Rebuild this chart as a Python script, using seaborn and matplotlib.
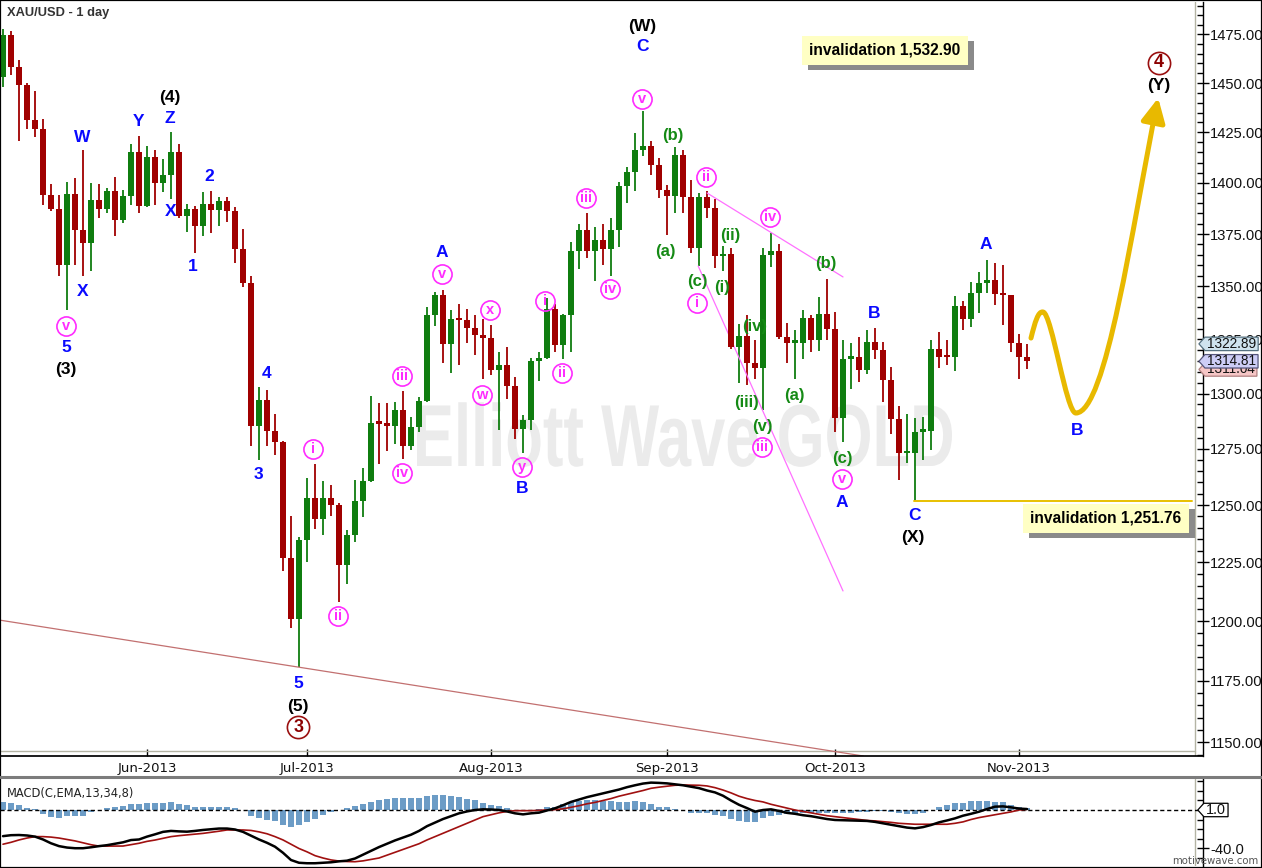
import numpy as np
import pandas as pd
import matplotlib
matplotlib.use("Agg")
import matplotlib.pyplot as plt
import matplotlib.transforms as mtransforms
from matplotlib.path import Path
from matplotlib.patches import FancyArrowPatch, PathPatch, Rectangle
from matplotlib.lines import Line2D
from matplotlib.textpath import TextPath
from matplotlib.font_manager import FontProperties
from matplotlib.ticker import FixedLocator, NullFormatter
import seaborn as sns

sns.set_theme(style="white")
plt.rcParams['font.family'] = ['Liberation Sans', 'DejaVu Sans']

# ---- daily XAU/USD candles ----
first_day = "2013-05-08"
opens = [1453.0, 1474.5, 1458.0, 1449.0, 1431.4, 1426.5, 1394.0, 1387.0, 1360.0, 1394.5,
         1377.0, 1370.6, 1391.5, 1387.0, 1396.0, 1382.0, 1393.6, 1415.0, 1388.7, 1412.7,
         1400.0, 1404.0, 1415.0, 1383.8, 1387.0, 1379.0, 1389.5, 1386.6, 1391.0, 1386.0,
         1368.0, 1351.4, 1285.3, 1296.9, 1283.0, 1278.0, 1226.9, 1201.0, 1234.6, 1253.2,
         1244.0, 1253.2, 1250.0, 1224.0, 1237.0, 1251.8, 1260.4, 1287.0, 1286.6, 1285.3,
         1292.4, 1276.3, 1285.0, 1296.4, 1336.3, 1345.8, 1323.0, 1334.5, 1334.0, 1330.2,
         1327.0, 1325.6, 1310.6, 1313.0, 1303.3, 1284.0, 1288.0, 1315.0, 1316.5, 1339.4,
         1322.2, 1336.3, 1366.8, 1377.0, 1366.7, 1372.0, 1367.6, 1377.0, 1398.5, 1405.4,
         1416.2, 1418.2, 1409.0, 1396.4, 1393.5, 1413.7, 1393.0, 1368.4, 1393.0, 1387.7,
         1364.4, 1365.6, 1321.3, 1326.4, 1314.0, 1311.7, 1365.0, 1367.0, 1326.0, 1323.3,
         1323.5, 1334.8, 1324.5, 1337.0, 1329.6, 1288.7, 1316.0, 1316.7, 1311.0, 1323.7,
         1320.0, 1306.3, 1288.4, 1273.0, 1273.0, 1282.5, 1283.0, 1320.6, 1317.0, 1316.7,
         1340.6, 1334.3, 1347.0, 1351.4, 1353.0, 1346.2, 1345.6, 1323.3, 1316.7]
highs = [1478.0, 1477.0, 1462.0, 1450.0, 1446.0, 1432.0, 1399.5, 1394.0, 1400.5, 1402.5,
         1416.0, 1400.0, 1399.5, 1397.5, 1403.0, 1396.5, 1419.0, 1423.0, 1418.0, 1416.0,
         1412.0, 1425.0, 1419.0, 1389.5, 1388.7, 1395.5, 1396.0, 1393.0, 1393.0, 1388.0,
         1377.4, 1355.0, 1303.0, 1301.7, 1290.6, 1278.5, 1245.0, 1236.0, 1262.0, 1268.3,
         1260.7, 1258.8, 1251.0, 1239.0, 1261.0, 1266.6, 1299.0, 1295.5, 1295.5, 1296.0,
         1301.0, 1289.4, 1298.4, 1340.0, 1347.4, 1348.4, 1338.7, 1341.6, 1339.0, 1336.3,
         1334.3, 1331.6, 1319.0, 1321.5, 1307.7, 1290.2, 1316.5, 1319.0, 1344.2, 1341.8,
         1337.0, 1371.0, 1380.0, 1385.2, 1378.5, 1379.8, 1382.6, 1400.6, 1408.0, 1424.8,
         1435.6, 1420.8, 1412.5, 1399.0, 1417.6, 1416.2, 1401.5, 1395.2, 1396.0, 1392.0,
         1369.0, 1368.2, 1332.0, 1336.3, 1324.6, 1368.4, 1375.6, 1370.0, 1332.5, 1329.5,
         1338.7, 1336.3, 1345.0, 1353.3, 1337.7, 1324.5, 1323.3, 1326.0, 1329.5, 1330.5,
         1323.8, 1312.4, 1294.5, 1290.5, 1289.0, 1289.4, 1324.9, 1328.4, 1324.5, 1345.3,
         1343.0, 1352.2, 1356.8, 1362.5, 1361.0, 1360.0, 1346.0, 1327.6, 1322.89]
lows = [1448.0, 1454.0, 1420.5, 1426.5, 1422.5, 1389.0, 1386.0, 1355.0, 1338.7, 1360.0,
        1354.7, 1357.0, 1382.8, 1385.0, 1374.0, 1380.5, 1389.0, 1385.0, 1388.0, 1389.0,
        1395.5, 1392.0, 1383.0, 1376.0, 1366.0, 1374.0, 1375.5, 1379.0, 1381.0, 1361.0,
        1349.5, 1276.3, 1270.0, 1276.3, 1272.0, 1221.5, 1197.0, 1180.7, 1225.0, 1239.5,
        1237.0, 1245.0, 1208.0, 1215.7, 1234.0, 1244.7, 1260.0, 1268.0, 1274.0, 1277.0,
        1270.5, 1274.6, 1282.6, 1296.0, 1331.3, 1314.0, 1309.5, 1313.0, 1323.3, 1317.8,
        1306.5, 1308.3, 1283.5, 1297.6, 1279.5, 1273.0, 1283.5, 1305.7, 1316.0, 1319.0,
        1316.0, 1319.0, 1358.0, 1363.4, 1352.4, 1360.0, 1355.0, 1368.8, 1390.2, 1396.0,
        1413.4, 1403.7, 1392.5, 1374.5, 1385.0, 1385.3, 1365.8, 1359.6, 1382.6, 1358.6,
        1357.0, 1320.6, 1305.0, 1303.8, 1306.5, 1292.5, 1359.0, 1325.0, 1314.0, 1306.5,
        1316.0, 1319.0, 1319.8, 1324.5, 1282.7, 1278.0, 1302.0, 1305.4, 1309.0, 1315.7,
        1296.0, 1281.7, 1261.0, 1268.7, 1251.76, 1270.0, 1274.6, 1311.8, 1313.0, 1310.5,
        1329.2, 1330.8, 1337.2, 1347.0, 1341.0, 1331.6, 1319.0, 1306.5, 1311.04]
closes = [1474.5, 1458.0, 1449.0, 1431.4, 1426.5, 1394.0, 1387.0, 1360.0, 1394.5, 1377.0,
          1370.6, 1391.5, 1387.0, 1396.0, 1382.0, 1393.6, 1415.0, 1388.7, 1412.7, 1400.0,
          1404.0, 1415.0, 1383.8, 1387.0, 1379.0, 1389.5, 1386.6, 1391.0, 1386.0, 1368.0,
          1351.4, 1285.3, 1296.9, 1283.0, 1278.0, 1226.9, 1201.0, 1234.6, 1253.2, 1244.0,
          1253.2, 1250.0, 1224.0, 1237.0, 1251.8, 1260.4, 1286.6, 1286.2, 1285.3, 1292.4,
          1276.3, 1285.0, 1296.4, 1336.3, 1345.8, 1323.0, 1334.4, 1334.0, 1330.2, 1327.0,
          1325.6, 1310.6, 1313.0, 1303.3, 1284.0, 1288.0, 1315.0, 1316.5, 1339.4, 1322.2,
          1336.3, 1366.8, 1377.0, 1366.7, 1372.0, 1367.6, 1377.0, 1398.5, 1405.4, 1416.2,
          1418.2, 1409.0, 1396.4, 1393.5, 1413.7, 1393.0, 1368.4, 1393.0, 1387.7, 1364.4,
          1365.6, 1321.3, 1326.4, 1314.0, 1311.7, 1365.0, 1367.0, 1326.0, 1323.3, 1323.8,
          1334.8, 1324.5, 1337.0, 1329.6, 1288.7, 1316.0, 1316.7, 1311.0, 1323.7, 1320.0,
          1306.3, 1288.4, 1273.0, 1273.4, 1282.5, 1283.0, 1320.6, 1316.7, 1316.7, 1340.6,
          1334.3, 1347.0, 1351.4, 1353.0, 1346.2, 1345.6, 1323.3, 1316.7, 1314.81]

# ---- MACD(13,34,8) panel ----
macd_line = [-27.5, -26.5, -26.3, -26.8, -28, -31, -35, -38, -39.5, -40.2,
             -40.2, -39.2, -38, -37, -35.5, -34, -31.6, -31, -28, -25.6,
             -23, -22, -22.5, -22.8, -22, -21, -20.3, -19.5, -19.5, -20.5,
             -23, -27, -31, -34.5, -38.6, -45, -52.6, -55.5, -56, -56,
             -55.5, -55, -54, -53.3, -51, -47, -43, -39, -35.5, -32,
             -29, -26, -22, -17, -13.3, -9.5, -6.5, -3.5, -1.5, 0,
             0.7, 0.5, 0, -1.5, -3.5, -4.6, -3.5, -2.8, -0.5, 1.8,
             5, 8.5, 11, 13.5, 15.5, 17.5, 19.5, 21.5, 24, 26,
             27.8, 28.8, 28.5, 28, 27, 26, 24.5, 23, 20.5, 18.5,
             15, 10, 5.5, 2, -1.8, 0, 0.7, -1, -3, -4,
             -5.5, -6.5, -8, -9.5, -10.5, -10.8, -11, -11.2, -11.5, -12.5,
             -14, -15.5, -17, -18.5, -19.3, -18, -15.8, -13, -11, -8.8,
             -6, -4, -1.8, 1, 3.5, 3.8, 2.8, 1.5, 1.0]
signal_line = [-36, -34, -31.5, -29.5, -28, -28, -28.5, -29.5, -31, -32.5,
               -34.5, -36.5, -38, -38, -38, -37.9, -36.5, -35, -33, -31.6,
               -29.8, -28, -27, -26.2, -25.4, -24.6, -23.5, -22.3, -21, -21,
               -21, -21.5, -23, -25, -28, -31.5, -36, -40.5, -44, -48,
               -50.5, -52.5, -53.7, -54.2, -54.4, -53.5, -52, -50.5, -47.5, -44.5,
               -41.5, -38.5, -35.5, -31.5, -28, -24.5, -21, -17.5, -14, -10.5,
               -7, -5, -3, -1.5, -0.7, -0.7, -0.7, -0.4, 0, 0.4,
               1.2, 2.8, 4.5, 6.5, 8, 10, 12, 14.5, 16.5, 18.5,
               20.5, 22.8, 24, 25, 26, 26.3, 26.2, 26, 25.3, 23.5,
               21, 18, 14.5, 12, 10, 8.5, 6, 4, 2, 0,
               -1.5, -3, -4.5, -6, -7, -8, -9, -10, -11, -11.5,
               -12.2, -13, -14, -14.5, -15, -15, -15, -15, -15, -14,
               -12.5, -10, -8, -6.5, -5, -3.5, -2, 0, 0.7]
macd_hist = [8.5, 7, 5, 2.5, 0.7, -4.5, -7, -8, -6.5, -6.5,
             -6, -2.5, 0, 2.5, 3.5, 4, 6, 6, 7, 7.4,
             7.4, 8, 6, 5, 3.5, 3.5, 3.5, 3.5, 2.8, 1.8,
             0, -6, -8.8, -10.5, -12, -15.5, -18, -15.5, -13, -9.5,
             -5, -1.7, 0, 1.7, 4, 6, 8.5, 10, 11.7, 12.7,
             12.7, 12.7, 12.3, 14.5, 15.5, 15.5, 14.5, 13.3, 11.7, 10,
             7, 5, 4, 1.7, 0.3, -0.5, 0, 1, 2.8, 3.5,
             6, 8, 9.7, 10.4, 10.4, 9.7, 9.4, 8.7, 8.7, 9.4,
             8.7, 6, 3.5, 3.5, 1, 0, -2.7, -3.5, -3.5, -5,
             -6.5, -9.3, -11.6, -12.6, -12.6, -8.6, -6.3, -5, -4, -3.5,
             -3.5, -2.7, -2.7, -3.5, -2.7, -3.5, -2.7, -2.4, -1.7, -1,
             -0.7, -2, -3.5, -4.5, -4.5, -3.5, 0, 3.5, 5, 7,
             7.4, 9.7, 9.7, 9.7, 8.7, 8, 5, 3.5, 1.7]

price_ticks = [1150, 1175, 1200, 1225, 1250, 1275, 1300, 1325, 1350, 1375, 1400, 1425, 1450, 1475]
invalidation_hi = 1532.90
invalidation_lo = 1251.76

# wave labels (text, bar index, price)
blue_labels = [("W", 9.9, 1422.7), ("Y", 16.9, 1430.3), ("Z", 20.9, 1431.8), ("X", 20.9, 1385.7),
               ("2", 25.75, 1402.9), ("1", 23.75, 1359.2), ("X", 9.9, 1347.7), ("5", 7.9, 1321.4),
               ("4", 32.9, 1309.0), ("3", 31.9, 1263.3), ("5", 36.9, 1174.1), ("A", 54.9, 1366.3),
               ("B", 64.9, 1257.1), ("C", 79.9, 1468.5), ("A", 104.9, 1251.1), ("B", 108.9, 1337.3),
               ("C", 113.9, 1245.2), ("A", 122.9, 1369.7), ("B", 134.25, 1283.4)]
black_labels = [("(3)", 7.9, 1311.2), ("(4)", 20.9, 1442.4), ("(5)", 36.9, 1164.7),
                ("(W)", 79.9, 1478.9), ("(X)", 113.75, 1236.0), ("(Y)", 144.5, 1448.5)]
circled_red = [("3", 36.9, 1156.1), ("4", 144.5, 1460.3)]
circled_mag = [("v", 7.9, 1331.2), ("i", 38.75, 1274.9), ("ii", 41.9, 1202.1), ("iii", 49.9, 1308.0),
               ("iv", 49.9, 1264.1), ("v", 54.9, 1355.8), ("x", 60.9, 1338.7), ("w", 59.9, 1299.3),
               ("y", 64.9, 1266.8), ("i", 67.75, 1343.0), ("ii", 69.9, 1309.4), ("iii", 72.9, 1392.5),
               ("iv", 75.9, 1348.7), ("v", 79.9, 1441.9), ("ii", 87.9, 1402.9), ("i", 86.75, 1342.0),
               ("iv", 95.9, 1383.3), ("iii", 94.9, 1275.8), ("v", 104.9, 1261.5)]
green_labels = [("(b)", 83.75, 1423.7), ("(a)", 82.75, 1366.8), ("(c)", 86.75, 1352.0),
                ("(ii)", 90.9, 1374.5), ("(i)", 89.9, 1349.6), ("(iv)", 93.9, 1330.8),
                ("(iii)", 92.9, 1296.1), ("(v)", 94.9, 1285.2), ("(a)", 98.9, 1298.9),
                ("(b)", 102.9, 1360.6), ("(c)", 104.9, 1270.8)]

# trend lines (bar index, price) pairs
upper_channel = [(88.0, 1395.0), (105.0, 1354.4)]
lower_channel = [(86.9, 1359.6), (105.0, 1212.8)]
base_line = [(-0.375, 1200.4), (37.0, 1180.7)]
# projected path: start, then bezier (ctrl, ctrl, end) triples
proj_pts = [(128.5, 1325.6),
            (129.0, 1333.1), (129.4, 1338.3), (130.0, 1337.8),
            (131.1, 1337.3), (132.9, 1291.1), (134.1, 1291.1),
            (137.9, 1291.1), (141.1, 1377.9), (144.4, 1442.4)]

df = pd.DataFrame({"open": opens, "high": highs, "low": lows, "close": closes},
                  index=pd.bdate_range(first_day, periods=len(closes)))
xs = np.arange(len(df))
up = df["close"].values >= df["open"].values
GREEN, RED = "#0f7d0f", "#a00000"
cols = np.where(up, GREEN, RED)

W, H = 1262, 868
fig = plt.figure(figsize=(W / 100, H / 100), dpi=100)
fig.patch.set_facecolor("white")


def px(l, t, r, b):
    return [l / W, 1 - b / H, (r - l) / W, (b - t) / H]


ax = fig.add_axes(px(0, 2, 1203, 756))
mx = fig.add_axes(px(0, 779, 1203, 866))
for a in (ax, mx):
    a.set_facecolor("white")
    a.set_xlim(-0.375, 150)
    for s in ("top", "left"):
        a.spines[s].set_visible(False)
    a.spines["right"].set_color("black")
    a.spines["right"].set_linewidth(1)
    # inner grey frame
    a.add_line(Line2D([1195 / 1203] * 2, [0, 1], transform=a.transAxes, color="#b4b4a4", lw=1))

# ---------------- price panel ----------------
ax.set_yscale("log")
ax.set_ylim(1144.4, 1491.9)
ax.spines["bottom"].set_color("black")
ax.add_line(Line2D([0, 1195 / 1203], [5 / 754] * 2, transform=ax.transAxes, color="#b4b4a4", lw=1))

# watermark
tp = TextPath((0, 0), "Elliott Wave GOLD", size=88,
              prop=FontProperties(family="Liberation Sans", weight="bold"))
ext = tp.get_extents()
sx = 535 / ext.width
wm_tr = (mtransforms.Affine2D().translate(-ext.x0, 0).scale(sx, 1.0)
         .translate(417, H - 466).scale(1 / 100.) + fig.dpi_scale_trans)
ax.add_patch(PathPatch(tp, transform=wm_tr, fc="#ebebeb", ec="none", zorder=0.5))

# candles
body_lo = np.minimum(df["open"], df["close"]).values
body_h = np.maximum(np.abs(df["close"] - df["open"]).values, 1.2)
ax.vlines(xs, df["low"], df["high"], colors=cols, lw=1.3, zorder=2)
ax.bar(xs, body_h, bottom=body_lo, width=0.8, color=cols, linewidth=0, zorder=3)

# lines
(p0, p1) = upper_channel
ax.plot([p0[0], p1[0]], [p0[1], p1[1]], color="#ff70ff", lw=0.9, zorder=2.5)
(p0, p1) = lower_channel
ax.plot([p0[0], p1[0]], [p0[1], p1[1]], color="#ff70ff", lw=0.9, zorder=2.5)
ax.axline(base_line[0], base_line[1], color="#c27070", lw=0.9, zorder=2.5)
ax.plot([113.9, 148.6], [invalidation_lo] * 2, color="#e8c000", lw=1.4, zorder=2.5)

codes = [Path.MOVETO] + [Path.CURVE4] * (len(proj_pts) - 1)
arrow = FancyArrowPatch(path=Path(proj_pts, codes),
                        arrowstyle="-|>,head_length=0.9,head_width=0.45",
                        mutation_scale=16, lw=3.6, color="#e8b900", zorder=6)
ax.add_patch(arrow)

# labels
lab_font = dict(family=["Liberation Sans", "DejaVu Sans"], weight="bold")
for t, i, p in blue_labels:
    ax.text(i, p, t, color="#0a0aff", fontsize=12.5, ha="center", va="center", zorder=7, **lab_font)
for t, i, p in black_labels:
    ax.text(i, p, t, color="black", fontsize=12.5, ha="center", va="center", zorder=7, **lab_font)
for t, i, p in green_labels:
    ax.text(i, p, t, color="#158a15", fontsize=12, ha="center", va="center", zorder=7, **lab_font)
for t, i, p in circled_mag:
    ax.plot(i, p, marker="o", ms=13.8, mfc="none", mec="#ff2cff", mew=1.2, zorder=7)
    ax.text(i, p, t, color="#ff2cff", fontsize=10.5, ha="center", va="center", zorder=7, **lab_font)
for t, i, p in circled_red:
    ax.plot(i, p, marker="o", ms=16, mfc="none", mec="#9a1010", mew=1.2, zorder=7)
    ax.text(i, p, t, color="#8b0000", fontsize=13, ha="center", va="center", zorder=7, **lab_font)

# axes ticks
ax.yaxis.tick_right()
ax.yaxis.set_major_locator(FixedLocator(price_ticks))
ax.yaxis.set_minor_locator(FixedLocator([v for v in range(1145, 1491, 5) if v % 25]))
ax.yaxis.set_major_formatter(matplotlib.ticker.FuncFormatter(lambda v, _: f"{v:.2f}"))
ax.yaxis.set_minor_formatter(NullFormatter())
ax.tick_params(axis="y", which="major", direction="inout", length=8, width=1, color="black",
               labelsize=10.6, pad=1, labelcolor="#111111", right=True, left=False)
ax.tick_params(axis="y", which="minor", direction="in", length=4, width=1, color="black", right=True, left=False)

month_pos = [i for i in range(1, len(df)) if df.index[i].month != df.index[i - 1].month]
month_lab = [df.index[i].strftime("%b-%Y") for i in month_pos]
ax.set_xticks(month_pos)
ax.set_xticklabels(month_lab, family="DejaVu Sans", fontsize=9.5, color="#111111")
ax.tick_params(axis="x", direction="in", length=5, width=1, color="black", pad=4, bottom=True)


def tag_box(x0, y0, width, height, mutation_size):
    padx, pady = 0.15 * mutation_size, -0.02 * mutation_size
    x0, y0 = x0 - padx, y0 - pady
    width, height = width + 2 * padx, height + 2 * pady
    tip = height * 0.45
    verts = [(x0 - tip, y0 + height / 2), (x0, y0), (x0 + width, y0),
             (x0 + width, y0 + height), (x0, y0 + height), (x0 - tip, y0 + height / 2)]
    return Path(verts, closed=True)


ytr = mtransforms.blended_transform_factory(ax.transAxes, ax.transData)
for val, fc, ec in [(lows[-1], "#f6c6c6", "#b08080"), (highs[-1], "#cfe3ee", "#55707f"),
                    (closes[-1], "#cdcdf6", "#55557a")]:
    ax.text(1207 / 1203, val, f"{val:.2f}", transform=ytr, ha="left", va="center",
            fontsize=9.8, color="#111111", clip_on=False, zorder=20,
            bbox=dict(boxstyle=tag_box, fc=fc, ec=ec, lw=0.9))

# ---------------- MACD panel ----------------
mx.set_ylim(-58.9, 32.6)
mx.spines["bottom"].set_visible(False)
mx.bar(xs, macd_hist, width=0.84, color="#6c9cc6", linewidth=0, zorder=2)
mx.axhline(0, color="black", lw=1, ls=(0, (3, 2)), zorder=3)
sns.lineplot(x=xs, y=signal_line, ax=mx, color="#a01010", lw=1.2, zorder=4)
sns.lineplot(x=xs, y=macd_line, ax=mx, color="black", lw=1.8, zorder=5)
mx.set_xticks([])
mx.set_ylabel("")
mx.yaxis.tick_right()
mx.set_yticks([-40])
mx.set_yticklabels(["-40.0"])
mx.yaxis.set_minor_locator(FixedLocator([-50, -30, -20, -10, 10, 20, 30]))
mx.tick_params(axis="y", which="major", direction="inout", length=8, width=1, color="black",
               labelsize=10.6, pad=1, labelcolor="#111111", right=True, left=False)
mx.tick_params(axis="y", which="minor", direction="in", length=4, width=1, color="black", right=True, left=False)
ytr2 = mtransforms.blended_transform_factory(mx.transAxes, mx.transData)
mx.text(1206 / 1203, 0, f"{macd_line[-1]:.1f}", transform=ytr2, ha="left", va="center",
        fontsize=10.4, color="#111111", clip_on=False, zorder=20,
        bbox=dict(boxstyle=tag_box, fc="white", ec="black", lw=0.9))

# ---------------- figure decorations ----------------
fig.add_artist(Line2D([0, 1], [1 - 777.3 / H] * 2, color="#7c7c7c", lw=2.2))
fig.add_artist(Rectangle((0, 0), 1, 1, transform=fig.transFigure, fill=False, ec="black", lw=1.6))
fig.text(7 / W, 1 - 13 / H, "XAU/USD - 1 day", fontsize=9.3, weight="bold", color="#333333",
         ha="left", va="center")
fig.text(7 / W, 1 - 794 / H, "MACD(C,EMA,13,34,8)", family="DejaVu Sans", fontsize=8.3,
         color="#222222", ha="left", va="center")
fig.text(1258 / W, 1 - 861 / H, "motivewave.com", family="DejaVu Sans", fontsize=7.3,
         color="#555555", ha="right", va="center")


def inval_box(cx, cy, text):
    t = fig.text(cx / W, 1 - cy / H, text, color="black", fontsize=11.2, weight="bold",
                 ha="center", va="center", zorder=11,
                 bbox=dict(boxstyle="square,pad=0.45", fc="#ffffc4", ec="none"))
    fig.canvas.draw()
    bb = t.get_bbox_patch().get_window_extent()
    fig.add_artist(Rectangle((bb.x0 + 6, bb.y0 - 5), bb.width, bb.height,
                             transform=mtransforms.IdentityTransform(),
                             fc="#8a8a8a", ec="none", zorder=10))


inval_box(885, 50, f"invalidation {invalidation_hi:,.2f}")
inval_box(1106, 518, f"invalidation {invalidation_lo:,.2f}")

fig.savefig("out.png", dpi=100, facecolor="white")
